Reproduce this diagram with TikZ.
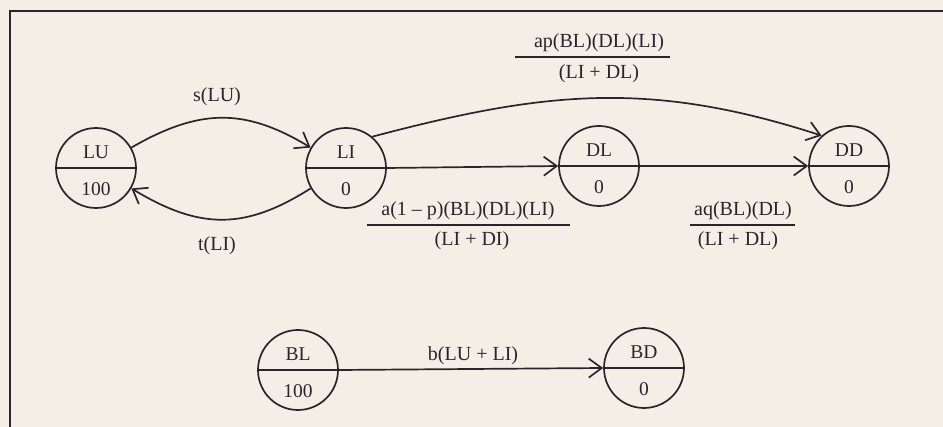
\documentclass[tikz,border=0pt]{standalone}
\usepackage{fontspec}
\setmainfont{Liberation Serif}
\usetikzlibrary{arrows.meta}
\definecolor{paper}{HTML}{F4EFE6}
\definecolor{ink}{HTML}{2A242D}
\newcommand\statenode[5]{%
  \node[statecirc] (#1) at (#2,#3) {};
  \draw[splitline] (#1.west) -- (#1.east);
  \path (#1.center) ++(0,-9.5) node[statetext] (#1top) {#4};
  \path (#1.center) ++(0,28) node[statetext] (#1bot) {#5};
}
\begin{document}
\begin{tikzpicture}[x=1pt,y=-1pt,
  lbl/.style={text=ink, font=\fontsize{20}{24}\selectfont, inner sep=0pt},
  statetext/.style={text=ink, font=\fontsize{19.5}{22}\selectfont, inner sep=0pt, anchor=base},
  statecirc/.style={circle, draw=ink, line width=1.7pt, minimum size=80pt, inner sep=0pt},
  splitline/.style={draw=ink, line width=1.7pt},
  fracbar/.style={draw=ink, line width=1.5pt},
  conn/.style={draw=ink, line width=1.7pt, -{Straight Barb[length=13pt,width=19pt,line width=1.7pt]}},
  frame/.style={draw=ink, line width=2.2pt}]
\fill[paper] (0,0) rectangle (943,427);
\useasboundingbox (0,0) rectangle (943,427);
\draw[frame] (943,11) -- (10,11) -- (10,427);

\statenode{LU}{96}{168}{LU}{100}
\statenode{LI}{346}{168}{LI}{0}
\statenode{DL}{599}{166}{DL}{0}
\statenode{DD}{849}{166}{DD}{0}
\statenode{BL}{298}{370}{BL}{100}
\statenode{BD}{644}{368}{BD}{0}

% connectors
\draw[conn] (LU.30) .. controls (200,108) and (245,108) .. (LI.150);
\draw[conn] (LI.210) .. controls (245,230) and (200,230) .. (LU.330);
\draw[conn] (LI.50) .. controls (545,91) and (650,80) .. (DD.132);
\draw[conn] (LI.east) -- (DL.west);
\draw[conn] (DL.east) -- (DD.west);
\draw[conn] (BL.east) -- (BD.west);

% labels
\node[lbl] (sLU) at (217,97) {s(LU)};
\node[lbl] (tLI) at (217,246) {t(LI)};

\node[lbl] (f1n) at (599,43) {ap(BL)(DL)(LI)};
\draw[fracbar] (515,57) -- (670,57);
\node[lbl] (f1d) at (599,74) {(LI + DL)};

\node[lbl] (f2n) at (468,211) {a(1 – p)(BL)(DL)(LI)};
\draw[fracbar] (367,225) -- (570,225);
\node[lbl] (f2d) at (472,241) {(LI + DI)};

\node[lbl] (f3n) at (743,211) {aq(BL)(DL)};
\draw[fracbar] (690,225) -- (795,225);
\node[lbl] (f3d) at (738,241) {(LI + DL)};

\node[lbl] (bLU) at (473,356) {b(LU + LI)};
\end{tikzpicture}
\end{document}
